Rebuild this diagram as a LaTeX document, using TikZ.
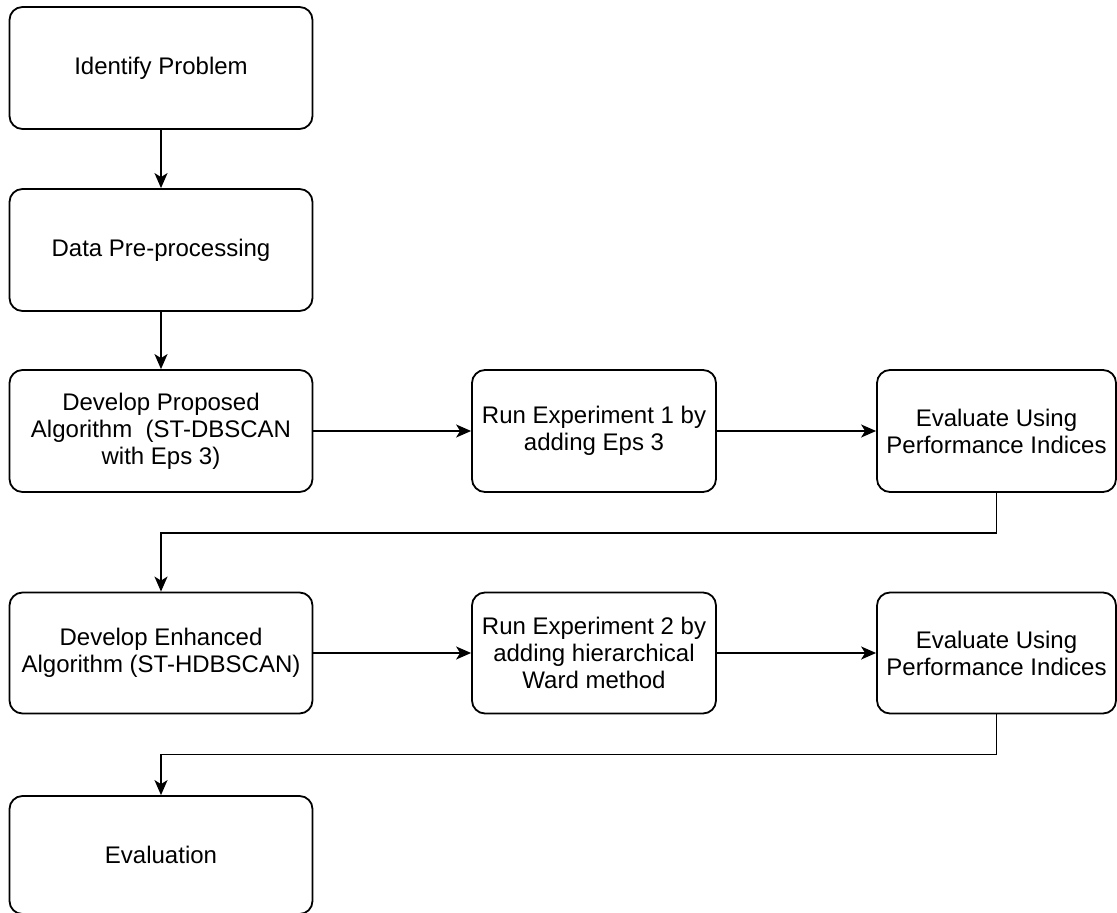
\documentclass[tikz,border=0pt]{standalone}
\usepackage{fontspec}
\setmainfont{Liberation Sans}
\usetikzlibrary{arrows.meta}

\begin{document}
\begin{tikzpicture}[x=0.5pt,y=-0.5pt,
    stepbox/.style={draw,rounded corners=6.5pt,line width=0.9pt,align=center,
      minimum width=151.5pt,minimum height=61pt,inner sep=2pt,
      font=\fontsize{12}{13.5}\selectfont},
    flow/.style={line width=0.9pt,-{Stealth[length=7.5pt,width=6.5pt,inset=2pt]}}]
  \useasboundingbox (0,0) rectangle (1117,913);
  \node[stepbox] (ident) at (161,68) {Identify Problem};
  \node[stepbox] (prep) at (161,250) {Data Pre-processing};
  \node[stepbox] (dev1) at (161,431) {Develop Proposed\\Algorithm~ (ST-DBSCAN\\with Eps 3)};
  \node[stepbox,minimum width=122pt] (run1) at (594,431) {Run Experiment 1 by\\adding Eps 3};
  \node[stepbox,minimum width=119.5pt] (eval1) at (996.5,431) {Evaluate Using\\Performance Indices};
  \node[stepbox,minimum height=60.5pt] (dev2) at (161,653) {Develop Enhanced\\Algorithm (ST-HDBSCAN)};
  \node[stepbox,minimum width=122pt,minimum height=60.5pt] (run2) at (594,653) {Run Experiment 2 by\\adding hierarchical\\Ward method};
  \node[stepbox,minimum width=119.5pt,minimum height=60.5pt] (eval2) at (996.5,653) {Evaluate Using\\Performance Indices};
  \node[stepbox,minimum height=59pt] (final) at (161,855) {Evaluation};
  % connectors
  \draw[flow] (ident) -- (prep);
  \draw[flow] (prep) -- (dev1);
  \draw[flow] (dev1) -- (run1);
  \draw[flow] (run1) -- (eval1);
  \draw[flow] (eval1.south) -- ++(0,40) -| (dev2.north);
  \draw[flow] (dev2) -- (run2);
  \draw[flow] (run2) -- (eval2);
  \draw[flow] (eval2.south) -- ++(0,40) -| (final.north);
\end{tikzpicture}
\end{document}
